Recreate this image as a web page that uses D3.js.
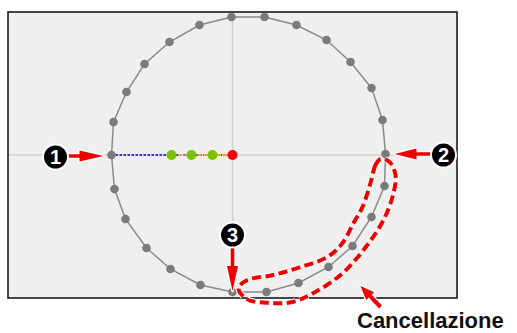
<!DOCTYPE html>
<html>
<head>
<meta charset="utf-8">
<script src="https://cdn.jsdelivr.net/npm/d3@7"></script>
<style>
  body { margin: 0; background: #fff; }
  svg { display: block; }
</style>
</head>
<body>
<div id="chart"></div>
<script>
// punti del cerchio (unità relative al centro del telaio, y verso l'alto)
const stitchX = [-121, -119, -106, -88, -63, -33, -1, 32, 64, 94, 118, 139, 150, 153,
  152, 139, 120, 96, 66, 34, 0, -32, -62, -86, -107, -118];
const stitchY = [0, 33, 63, 91, 113, 130, 138, 138, 130, 115, 93, 67, 35, 1,
  -31, -62, -91, -112, -128, -137, -137, -130, -114, -93, -64, -34];

// punti interni sulla linea di mezzo
const greenX = [-61, -41, -20];
const centerX = [0];

// contorno tratteggiato (zona da cancellare)
const eraseX = [148, 143, 138, 130, 121, 110, 95, 68, 41, 15, 6, 14, 38, 60, 81, 108, 131, 151, 161, 163, 157];
const eraseY = [-4, -10, -28, -52, -68, -88, -102, -112, -120, -125, -133, -144, -148, -147, -138, -120, -95, -65, -38, -20, -7];

const labels = ["1", "2", "3"];
const labelX = [-177, 211, 0];
const labelY = [-2, 0, -80];

const W = 517, H = 333;
const svg = d3.select("#chart").append("svg")
  .attr("width", W).attr("height", H);

const x = d3.scaleLinear().domain([-224.5, 224.5]).range([8, 457]);
const y = d3.scaleLinear().domain([143, -143]).range([12, 298]);

// sfondo del telaio
svg.append("rect")
  .attr("x", x(-224.5)).attr("y", y(143))
  .attr("width", x(224.5) - x(-224.5)).attr("height", y(-143) - y(143))
  .attr("fill", "#efefef");

// assi centrali
svg.append("line")
  .attr("x1", x(-224.5)).attr("x2", x(224.5))
  .attr("y1", y(0)).attr("y2", y(0))
  .attr("stroke", "#d2d2d2").attr("stroke-width", 1.5);
svg.append("line")
  .attr("x1", x(0)).attr("x2", x(0))
  .attr("y1", y(143)).attr("y2", y(-143))
  .attr("stroke", "#d2d2d2").attr("stroke-width", 1.5);

// bordo
svg.append("rect")
  .attr("x", x(-224.5)).attr("y", y(143))
  .attr("width", x(224.5) - x(-224.5)).attr("height", y(-143) - y(143))
  .attr("fill", "none").attr("stroke", "#1a1a1a").attr("stroke-width", 1.6);

// linea del cerchio
const pts = stitchX.map((d, i) => [d, stitchY[i]]);
const line = d3.line().x(d => x(d[0])).y(d => y(d[1]));
svg.append("path")
  .attr("d", line(pts.concat([pts[0]])))
  .attr("fill", "none").attr("stroke", "#8a8a8a").attr("stroke-width", 1.5);

// linea di mezzo: blu puntinata e arancione tratteggiata
svg.append("line")
  .attr("x1", x(stitchX[0]) + 4).attr("x2", x(centerX[0]))
  .attr("y1", y(0)).attr("y2", y(0))
  .attr("stroke", "#3333ee").attr("stroke-width", 2)
  .attr("stroke-dasharray", "2.5,1.5");
svg.append("line")
  .attr("x1", x(greenX[0])).attr("x2", x(centerX[0]))
  .attr("y1", y(0)).attr("y2", y(0))
  .attr("stroke", "#f0a830").attr("stroke-width", 2)
  .attr("stroke-dasharray", "4,2.5");

svg.selectAll(".stitch").data(pts).enter()
  .append("circle")
  .attr("class", "stitch")
  .attr("cx", d => x(d[0])).attr("cy", d => y(d[1]))
  .attr("r", 4.3).attr("fill", "#7b7b7b");

svg.selectAll(".green").data(greenX).enter()
  .append("circle")
  .attr("class", "green")
  .attr("cx", d => x(d)).attr("cy", y(0))
  .attr("r", 5).attr("fill", "#7cc000");

svg.selectAll(".red").data(centerX).enter()
  .append("circle")
  .attr("class", "red")
  .attr("cx", d => x(d)).attr("cy", y(0))
  .attr("r", 5).attr("fill", "#ee0000");

// contorno tratteggiato
const loop = d3.line().x(d => x(d[0])).y(d => y(d[1])).curve(d3.curveCatmullRomClosed);
const erasePts = eraseX.map((d, i) => [d, eraseY[i]]);
svg.append("path")
  .attr("d", loop(erasePts))
  .attr("fill", "none").attr("stroke", "#fff").attr("stroke-width", 6)
  .attr("stroke-dasharray", "9,4.5");
svg.append("path")
  .attr("d", loop(erasePts))
  .attr("fill", "none").attr("stroke", "#ee0000").attr("stroke-width", 4)
  .attr("stroke-dasharray", "9,4.5");

// frecce rosse
function arrow(tail, tip, headLen, headW, shaftW) {
  const x0 = x(tail[0]), y0 = y(tail[1]), x1 = x(tip[0]), y1 = y(tip[1]);
  const dx = x1 - x0, dy = y1 - y0, len = Math.hypot(dx, dy);
  const ux = dx / len, uy = dy / len, nx = -uy, ny = ux;
  const bx = x1 - ux * headLen, by = y1 - uy * headLen;
  const p = [
    [x0 + nx * shaftW, y0 + ny * shaftW],
    [bx + nx * shaftW, by + ny * shaftW],
    [bx + nx * headW, by + ny * headW],
    [x1, y1],
    [bx - nx * headW, by - ny * headW],
    [bx - nx * shaftW, by - ny * shaftW],
    [x0 - nx * shaftW, y0 - ny * shaftW]
  ];
  svg.append("path")
    .attr("d", "M" + p.join("L") + "Z")
    .attr("fill", "#ee0000").attr("stroke", "#fff").attr("stroke-width", 2.5)
    .attr("stroke-linejoin", "round").attr("paint-order", "stroke");
}
arrow([-166, -1], [-129, -1], 24, 5.5, 1.8);
arrow([200, 1], [162, 1], 22, 5.5, 1.8);
arrow([0, -92], [0, -136], 25, 5.5, 1.8);
arrow([148, -152], [128, -131], 14, 5.5, 2);

// etichette numerate
const g = svg.selectAll(".num").data(labels).enter()
  .append("g").attr("class", "num")
  .attr("transform", (d, i) => `translate(${x(labelX[i])},${y(labelY[i])})`);
g.append("circle").attr("r", 12.5)
  .attr("fill", "#000").attr("stroke", "#fff").attr("stroke-width", 2);
g.append("text")
  .attr("text-anchor", "middle").attr("dy", "0.36em")
  .attr("fill", "#fff")
  .style("font-family", "'Liberation Sans', Arial, sans-serif")
  .style("font-weight", "bold").style("font-size", "20px")
  .text(d => d);

svg.append("text")
  .attr("x", 357).attr("y", 328)
  .attr("fill", "#111")
  .style("font-family", "'Liberation Sans', Arial, sans-serif")
  .style("font-weight", "bold").style("font-size", "22px")
  .text("Cancellazione");
</script>
</body>
</html>
